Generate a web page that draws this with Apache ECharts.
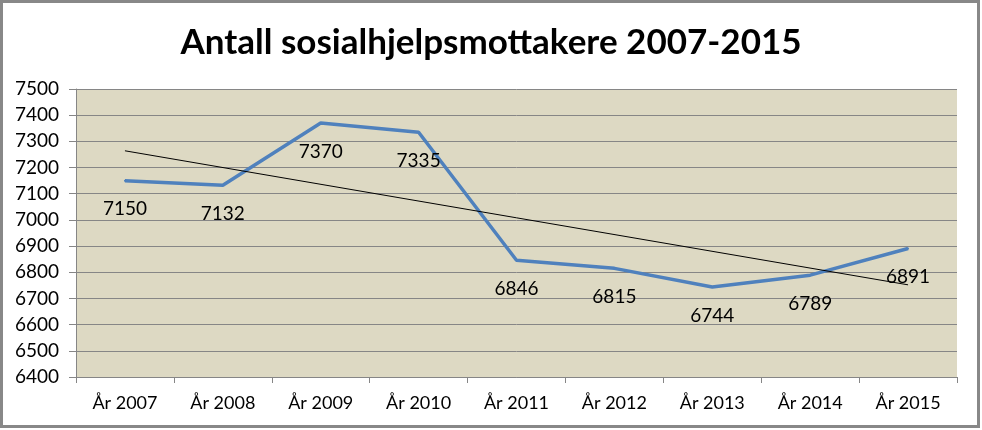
<!DOCTYPE html>
<html><head><meta charset="utf-8">
<script src="https://cdn.jsdelivr.net/npm/echarts@6/dist/echarts.min.js"></script>
<style>html,body{margin:0;padding:0;background:#fff}#c{width:982px;height:430px}</style>
</head><body><div id="c"></div>
<script>
const categories = ['År 2007','År 2008','År 2009','År 2010','År 2011','År 2012','År 2013','År 2014','År 2015'];
const values = [7150, 7132, 7370, 7335, 6846, 6815, 6744, 6789, 6891];
const trendStart = 7264;
const trendEnd = 6752;
const yMin = 6400, yMax = 7500, yStep = 100;

const chart = echarts.init(document.getElementById('c'));
const font = 'Lato, "Open Sans", sans-serif';
chart.setOption({
  animation: false,
  title: {text: 'Antall sosialhjelpsmottakere 2007-2015', left: 'center', top: 20,
    textStyle: {fontFamily: font, fontWeight: 'bold', fontSize: 35, color: '#000'}},
  graphic: [{type: 'rect', shape: {x: 1.5, y: 1.5, width: 977, height: 425},
    style: {fill: 'none', stroke: '#888', lineWidth: 3}, silent: true}],
  grid: {left: 76, right: 25, top: 89, bottom: 53, show: true, backgroundColor: '#DDD9C3', borderWidth: 0},
  xAxis: {type: 'category', data: categories, boundaryGap: true,
    axisLine: {lineStyle: {color: '#868686', width: 1}},
    axisTick: {show: true, length: 6, lineStyle: {color: '#868686'}},
    axisLabel: {fontFamily: font, fontSize: 18, color: '#000', margin: 17}},
  yAxis: {type: 'value', min: yMin, max: yMax, interval: yStep,
    axisLine: {show: true, lineStyle: {color: '#868686', width: 1}},
    axisTick: {show: true, length: 7, lineStyle: {color: '#868686'}},
    splitLine: {lineStyle: {color: '#868686', width: 1}},
    axisLabel: {fontFamily: font, fontSize: 19, color: '#000', margin: 17, formatter: v => String(v)}},
  series: [
    {type: 'line', data: values, symbol: 'circle', symbolSize: 2, showSymbol: true,
      itemStyle: {color: '#4F81BD'}, lineStyle: {color: '#4F81BD', width: 3.5}, z: 3,
      label: {show: true, position: 'bottom', distance: 18, fontFamily: font, fontSize: 19, color: '#000'}},
    {type: 'line', data: [[0, trendStart], [8, trendEnd]], symbol: 'none',
      lineStyle: {color: '#000', width: 1}, z: 4, label: {show: false}}
  ]
});
</script></body></html>
